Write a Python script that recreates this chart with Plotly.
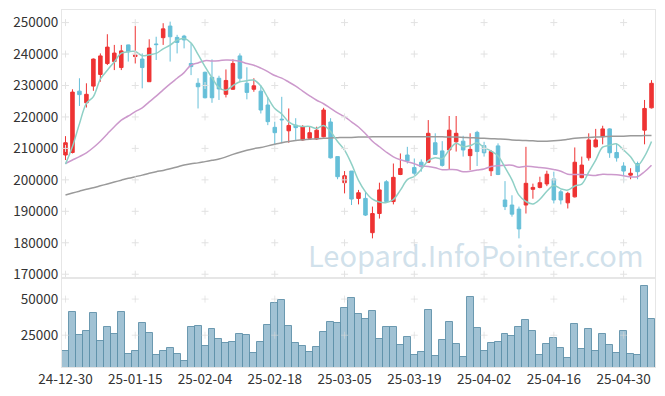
import plotly.graph_objects as go

dates = [
    "24-12-30", "25-01-02", "25-01-03", "25-01-06", "25-01-07", "25-01-08", "25-01-09", "25-01-10",
    "25-01-13", "25-01-14", "25-01-15", "25-01-16", "25-01-17", "25-01-20", "25-01-21", "25-01-22",
    "25-01-23", "25-01-24", "25-01-31", "25-02-03", "25-02-04", "25-02-05", "25-02-06", "25-02-07",
    "25-02-10", "25-02-11", "25-02-12", "25-02-13", "25-02-14", "25-02-17", "25-02-18", "25-02-19",
    "25-02-20", "25-02-21", "25-02-24", "25-02-25", "25-02-26", "25-02-27", "25-02-28", "25-03-04",
    "25-03-05", "25-03-06", "25-03-07", "25-03-10", "25-03-11", "25-03-12", "25-03-13", "25-03-14",
    "25-03-17", "25-03-18", "25-03-19", "25-03-20", "25-03-21", "25-03-24", "25-03-25", "25-03-26",
    "25-03-27", "25-03-28", "25-03-31", "25-04-01", "25-04-02", "25-04-03", "25-04-04", "25-04-07",
    "25-04-08", "25-04-09", "25-04-10", "25-04-11", "25-04-14", "25-04-15", "25-04-16", "25-04-17",
    "25-04-18", "25-04-21", "25-04-22", "25-04-23", "25-04-24", "25-04-25", "25-04-28", "25-04-29",
    "25-04-30", "25-05-02", "25-05-07", "25-05-08", "25-05-09",
]

open_ = [
    207900, 208700, 228200, 224500, 229800, 233500, 237000, 237600, 235700, 242900,
    239200, 238400, 231200, 243200, 245200, 248900, 245300, 245700, 237000, 230700,
    234200, 232600, 232300, 227200, 228800, 239400, 230700, 228800, 228200, 223800,
    216700, 219300, 215600, 217400, 212700, 213200, 213000, 213700, 218400, 207400,
    199100, 202800, 194100, 194100, 183200, 189300, 199400, 193100, 201700, 207900,
    203900, 205600, 205600, 211800, 209200, 209500, 212100, 212300, 207700, 215100,
    210900, 202900, 210800, 193600, 192000, 190700, 192000, 197000, 197600, 198700,
    200300, 196200, 192700, 194600, 200700, 207000, 210500, 213700, 216200, 208700,
    204400, 201500, 205200, 215800, 222900,
]
high = [
    213900, 228800, 232300, 230700, 238600, 240200, 246300, 242900, 242900, 243000,
    248900, 240200, 244700, 245500, 249800, 250300, 246100, 246100, 243400, 232300,
    234400, 238300, 233100, 235100, 238300, 240200, 235800, 232300, 230100, 226200,
    218500, 226400, 222700, 219600, 217400, 217100, 216900, 222900, 219600, 207400,
    202800, 202800, 196800, 196200, 191500, 199100, 199900, 205200, 208400, 210500,
    206800, 206500, 219000, 214800, 212300, 220300, 220300, 214000, 214800, 215600,
    212100, 209500, 211600, 199600, 195100, 191500, 210500, 198800, 201000, 202900,
    202600, 196800, 196200, 210300, 207400, 214800, 216200, 217200, 216400, 211600,
    205600, 203700, 205800, 225400, 231700,
]
low = [
    206300, 208400, 223500, 223000, 228300, 231200, 236500, 234900, 234900, 237600,
    237000, 229100, 231200, 238100, 242900, 237600, 240200, 241800, 233300, 222700,
    225900, 224500, 225400, 226200, 228600, 231200, 225600, 228000, 221100, 217400,
    211100, 211600, 211800, 212700, 212400, 212700, 212700, 213500, 206800, 200200,
    195700, 192000, 192200, 188500, 181400, 187700, 192800, 192200, 201500, 205200,
    201500, 202600, 205500, 207900, 204200, 203300, 209000, 207400, 203100, 204400,
    207400, 201200, 201500, 190400, 188300, 181400, 189300, 194000, 197300, 198000,
    192500, 192200, 190900, 194400, 200500, 206100, 210300, 211300, 207000, 205800,
    199200, 200200, 200200, 211300, 222700,
]
close = [
    211800, 227900, 227100, 227200, 238400, 239400, 242200, 240300, 241000, 240700,
    239700, 235700, 241900, 243000, 248000, 245500, 243700, 244500, 236000, 229600,
    226100, 226100, 228900, 231600, 237000, 232300, 227800, 229900, 222200, 218500,
    215000, 219100, 217300, 216600, 216900, 215000, 215800, 222200, 207000, 201000,
    201300, 193900, 195900, 188800, 189300, 196800, 193100, 200800, 203600, 206000,
    202100, 204200, 214800, 208100, 204600, 215800, 214800, 209500, 209700, 209000,
    208600, 209000, 201700, 191500, 189100, 184400, 198900, 197600, 199100, 201800,
    193600, 193600, 195700, 205600, 204700, 212700, 212700, 216200, 208600, 207000,
    202800, 202100, 202600, 222700, 230700,
]

ma5 = [
    205000, 210600, 217800, 224300, 226480, 232000, 234860, 237500, 240260, 240720,
    240780, 239480, 239800, 240200, 241660, 242820, 244420, 244940, 243540, 239860,
    235980, 232460, 229340, 228460, 229940, 231180, 231520, 231720, 229840, 226140,
    222680, 220940, 218420, 217300, 216980, 216980, 216320, 217300, 215380, 212200,
    209460, 205080, 199820, 196180, 193840, 192940, 192780, 193760, 196720, 200060,
    201120, 203340, 206140, 207040, 206760, 209500, 211620, 210560, 210880, 211760,
    210320, 209160, 207600, 203960, 199980, 195140, 193120, 192300, 193820, 196360,
    198200, 197140, 196760, 198060, 198640, 202460, 206280, 210380, 210980, 211440,
    209460, 207340, 204620, 207440, 212180,
]
ma20 = [
    205200, 206300, 207400, 208600, 210300, 212300, 214600, 216900, 219000, 220300,
    221700, 222900, 224800, 226600, 228600, 230500, 232300, 234100, 236500, 237180,
    237895, 237805, 237895, 238115, 238045, 237690, 236970, 236450, 235510, 234400,
    233165, 232335, 231105, 229785, 228230, 226705, 225310, 224195, 222745, 221315,
    220075, 218465, 216815, 214675, 212290, 210515, 208780, 207325, 206395, 205770,
    205125, 204380, 204255, 203830, 203215, 203255, 203205, 202570, 202705, 203105,
    203470, 204225, 204515, 204650, 204640, 204020, 204310, 204150, 203925, 203715,
    203290, 202760, 201805, 201680, 201685, 201530, 201425, 201760, 201705, 201605,
    201315, 200970, 201015, 202575, 204655,
]
ma60 = [
    195200, 195800, 196400, 197000, 197500, 198100, 198700, 199300, 199900, 200500,
    201000, 201500, 202100, 202600, 203000, 203500, 204100, 204700, 205100, 205400,
    205800, 206200, 206600, 207300, 208100, 208800, 209400, 209900, 210300, 210800,
    211300, 211800, 212200, 212500, 212700, 212900, 213100, 213200, 213300, 213400,
    213500, 213500, 213600, 213600, 213700, 213700, 213700, 213700, 213700, 213700,
    213700, 213700, 213700, 213700, 213700, 213600, 213600, 213500, 213400, 213300,
    213200, 213100, 213000, 212900, 212700, 212600, 212500, 212400, 212300, 212300,
    212400, 212600, 212900, 213200, 213400, 213500, 213600, 213700, 213800, 213900,
    213900, 214000, 214000, 214100, 214100,
]
volume = [
    14350, 40740, 25460, 28240, 40050, 21290, 31020, 26160, 40740, 12270,
    14350, 33800, 26850, 11110, 14350, 16430, 12270, 7400, 31020, 31710,
    17820, 29630, 22680, 19900, 20600, 26160, 25460, 12960, 20600, 32410,
    46990, 49070, 31710, 19900, 17820, 13650, 17130, 27550, 34490, 33800,
    43520, 50460, 39350, 36570, 41670, 22680, 31020, 31020, 18520, 24070,
    11570, 13650, 42360, 10880, 21990, 34490, 19210, 10180, 51160, 30320,
    14350, 19900, 20600, 26160, 24770, 31020, 35190, 28240, 11570, 19210,
    23380, 16430, 9480, 33100, 15740, 29630, 14350, 26160, 18520, 12960,
    28240, 12270, 11570, 58800, 36110,
]

price_ticks = [170000, 180000, 190000, 200000, 210000, 220000, 230000, 240000, 250000]
volume_ticks = [25000, 50000]
x_ticks = dates[::10]

FONT = "Noto Sans CJK KR, Malgun Gothic, sans-serif"
GRID_C = "#e2e2e2"
BORDER_C = "#e6e6e6"

fig = go.Figure()

# grid crosses at tick intersections
gx = [d for d in x_ticks for _ in price_ticks]
gy = [p for _ in x_ticks for p in price_ticks]
vx = [d for d in x_ticks for _ in volume_ticks]
vy = [v for _ in x_ticks for v in volume_ticks]

fig.add_trace(go.Scatter(x=dates, y=ma60, mode="lines", xaxis="x", yaxis="y",
                         line=dict(color="#9a9a9a", width=1.5, shape="spline"),
                         hoverinfo="skip", showlegend=False))
fig.add_trace(go.Scatter(x=dates, y=ma20, mode="lines", xaxis="x", yaxis="y",
                         line=dict(color="#cc99cc", width=1.5, shape="spline"),
                         hoverinfo="skip", showlegend=False))
fig.add_trace(go.Scatter(x=dates, y=ma5, mode="lines", xaxis="x", yaxis="y",
                         line=dict(color="#8fd0c6", width=1.5, shape="spline"),
                         hoverinfo="skip", showlegend=False))

fig.add_trace(go.Candlestick(
    x=dates, open=open_, high=high, low=low, close=close,
    xaxis="x", yaxis="y",
    increasing=dict(line=dict(color="#ee3333", width=1), fillcolor="#ee3333"),
    decreasing=dict(line=dict(color="#66bfd8", width=1), fillcolor="#66bfd8"),
    whiskerwidth=0, showlegend=False,
))

fig.add_trace(go.Bar(
    x=dates, y=volume, xaxis="x2", yaxis="y2",
    marker=dict(color="rgba(125,170,195,0.72)", line=dict(color="rgba(95,145,170,0.9)", width=1)),
    showlegend=False,
))

fig.add_trace(go.Scatter(
    x=gx, y=gy, mode="markers", xaxis="x", yaxis="y",
    marker=dict(symbol="cross-thin", size=5, line=dict(color=GRID_C, width=1)),
    hoverinfo="skip", showlegend=False,
))
fig.add_trace(go.Scatter(
    x=vx, y=vy, mode="markers", xaxis="x2", yaxis="y2",
    marker=dict(symbol="cross-thin", size=5, line=dict(color="rgba(215,215,215,0.6)", width=1)),
    hoverinfo="skip", showlegend=False,
))

split = 89 / 357

# the page body adds an 8px offset at top-left, so the figure is sized to fill the rest of the window
fig.update_layout(
    width=657, height=388,
    margin=dict(l=54, r=10, t=2, b=29),
    paper_bgcolor="white", plot_bgcolor="white",
    font=dict(family=FONT, size=13, color="#333333"),
    bargap=0, boxgap=0.28,
    xaxis=dict(
        type="category", categoryorder="array", categoryarray=dates,
        domain=[0, 1], anchor="y", range=[-0.5, len(dates) - 0.5],
        showticklabels=False, showgrid=False, zeroline=False,
        showline=True, linecolor=BORDER_C, mirror=True, automargin=False,
        rangeslider=dict(visible=False), tickvals=x_ticks, ticks="",
    ),
    yaxis=dict(
        domain=[split, 1], anchor="x", range=[168800, 254000],
        tickvals=price_ticks, ticktext=[str(v) for v in price_ticks],
        showgrid=False, zeroline=False, showline=True, linecolor=BORDER_C, mirror=True,
        ticks="", tickfont=dict(size=13.5), automargin=False,
    ),
    xaxis2=dict(
        type="category", categoryorder="array", categoryarray=dates,
        domain=[0, 1], anchor="y2", range=[-0.5, len(dates) - 0.5],
        tickvals=x_ticks, ticktext=x_ticks, showgrid=False, zeroline=False,
        showline=True, linecolor=BORDER_C, mirror=True, ticks="", tickangle=0,
        tickfont=dict(size=13.5), automargin=False,
    ),
    yaxis2=dict(
        domain=[0, split], anchor="x2", range=[3000, 64600],
        tickvals=volume_ticks, ticktext=[str(v) for v in volume_ticks],
        showgrid=False, zeroline=False, showline=True, linecolor=BORDER_C, mirror=True,
        ticks="", tickfont=dict(size=13.5), automargin=False,
    ),
    annotations=[dict(
        text="Leopard.InfoPointer.com", xref="paper", yref="paper",
        x=0.698, y=0.316, xanchor="center", yanchor="middle", showarrow=False,
        font=dict(family=FONT, size=29, color="rgba(170,200,218,0.55)"),
    )],
)

fig.write_html("out.html")
